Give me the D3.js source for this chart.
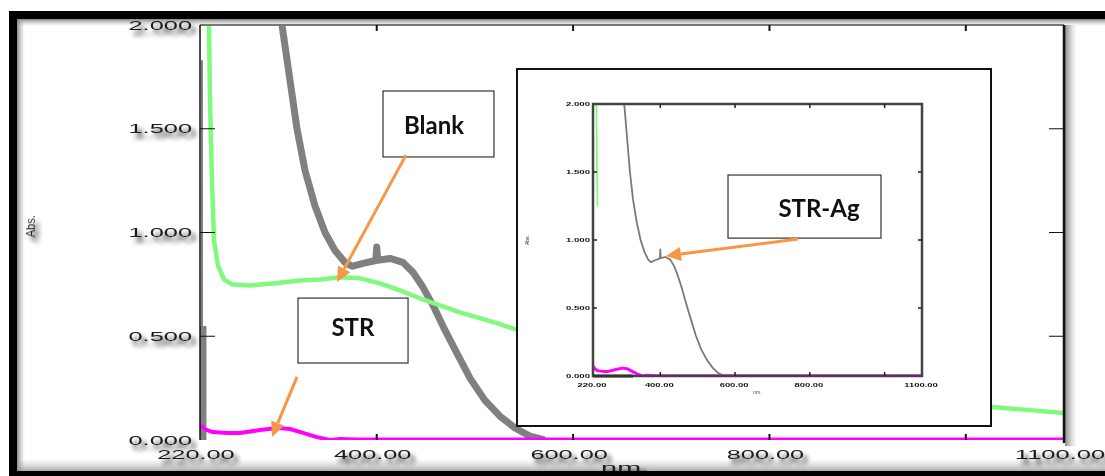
<!DOCTYPE html>
<html>
<head>
<meta charset="utf-8">
<script src="https://cdn.jsdelivr.net/npm/d3@7"></script>
<style>
  html, body { margin: 0; padding: 0; background: #fff; }
  svg { display: block; }
</style>
</head>
<body>
<svg id="chart" width="1105" height="476"></svg>
<script>
// ---- Spectra: [wavelength (nm), absorbance] ----
// Blank (green)
const blankSpectrum = [
  [229.0, 2.05], [229.2, 2.0], [230.2, 1.635], [232.2, 1.25], [234.3, 0.96],
  [238.3, 0.841], [244.4, 0.774], [252.6, 0.75], [270.9, 0.745], [296.4, 0.755],
  [321.8, 0.769], [342.2, 0.774], [362.6, 0.784], [383.0, 0.779], [403.3, 0.755],
  [423.7, 0.721], [444.0, 0.683], [464.4, 0.649], [484.8, 0.615], [505.1, 0.587],
  [525.5, 0.558], [540.8, 0.534], [600, 0.45], [700, 0.34], [800, 0.26],
  [900, 0.21], [1000, 0.172], [1027.5, 0.159], [1065, 0.144], [1100, 0.13]
];
// STR (magenta)
const strSpectrum = [
  [220, 0.072], [226, 0.05], [233, 0.038], [247.5, 0.034], [260.7, 0.034],
  [281, 0.048], [298.4, 0.058], [311.6, 0.053], [324.9, 0.034], [339, 0.014],
  [352.4, 0.0], [362.6, 0.005], [380, 0.003], [500, 0.002], [700, 0.002],
  [900, 0.002], [1100, 0.002]
];
// STR-Ag (gray); null marks a gap in the trace
const strAgSpectrum = [
  [223, 0.0], [223, 0.55], null,
  [300, 2.1], [303.5, 2.0], [318.8, 1.5], [327, 1.298], [337, 1.13], [347.3, 1.0],
  [357.5, 0.913], [367.7, 0.856], [374.8, 0.837], [386, 0.851], [399, 0.865],
  [400, 0.93], [401, 0.866], [413.5, 0.875], [426.7, 0.856], [436.9, 0.808],
  [446, 0.745], [457.3, 0.649], [469.5, 0.529], [482.7, 0.409], [495, 0.298],
  [510, 0.192], [525.5, 0.115], [540.8, 0.058], [556, 0.019], [571, 0.0]
];
// thin detector edge of the STR-Ag trace at the start of the scan
const strAgEdge = [[222, 0.55], [222, 1.83]];

// ---- Axis ticks ----
const yTickValues = [0, 0.5, 1.0, 1.5, 2.0];
const yTickLabels = ["0.000", "0.500", "1.000", "1.500", "2.000"];
const yInnerTicks = [0.5, 1.0, 1.5];
const xLabelValues = [220, 400, 600, 800, 1100];
const xTickLabels = ["220.00", "400.00", "600.00", "800.00", "1100.00"];
const xInnerTicks = [400, 600, 800, 1000];

// ---- Call-outs (data units: box [nm0, nm1, abs0, abs1], text anchor, arrow from -> to) ----
const calloutLabels = ["Blank", "STR", "STR-Ag"];
const calloutBoxes = [[406.4, 519.4, 1.682, 1.364], [319.8, 431.9, 0.684, 0.371], [757.8, 913.6, 1.277, 0.973]];
const calloutText = [[458.4, 1.518], [375.8, 0.540], [850.5, 1.118]];
const calloutArrows = [
  [[429.8, 1.373], [359.5, 0.761]],
  [[318.8, 0.304], [293.3, 0.0145]],
  [[829.1, 0.969], [694.6, 0.887]]
];

// ---- Layout ----
const W = 1105, H = 476;
const main = { left: 200, right: 1064, top: 25, bottom: 440 };
const insetBox = { x: 517, y: 69, w: 474, h: 357 };
const inner = { left: 593, right: 922, top: 104, bottom: 376 };

const GREEN = "#80fa7c", MAGENTA = "#ff00ff", GRAY = "#808080", ORANGE = "#f79646";

const svg = d3.select("#chart");
const defs = svg.append("defs");

// label drop shadow
const sh = defs.append("filter").attr("id", "lblShadow")
  .attr("x", "-30%").attr("y", "-80%").attr("width", "170%").attr("height", "300%");
sh.append("feGaussianBlur").attr("in", "SourceAlpha").attr("stdDeviation", 2.4).attr("result", "b");
sh.append("feOffset").attr("in", "b").attr("dx", 4).attr("dy", 5).attr("result", "o");
sh.append("feComponentTransfer").attr("in", "o").attr("result", "s")
  .append("feFuncA").attr("type", "linear").attr("slope", 0.9);
const shm = sh.append("feMerge");
shm.append("feMergeNode").attr("in", "s");
shm.append("feMergeNode").attr("in", "SourceGraphic");

const softBlur = defs.append("filter").attr("id", "soft");
softBlur.append("feGaussianBlur").attr("stdDeviation", 0.45);

function gradient(id, x1, y1, x2, y2, stops) {
  const g = defs.append("linearGradient").attr("id", id)
    .attr("x1", x1).attr("y1", y1).attr("x2", x2).attr("y2", y2);
  stops.forEach(s => g.append("stop").attr("offset", s[0]).attr("stop-color", s[1]).attr("stop-opacity", s[2]));
}
gradient("shDown", 0, 0, 0, 1, [[0, "#777", 0.9], [1, "#bbb", 0.0]]);
gradient("shRight", 0, 0, 1, 0, [[0, "#777", 0.85], [1, "#bbb", 0.0]]);
gradient("shUp", 0, 1, 0, 0, [[0, "#888", 0.7], [1, "#bbb", 0.0]]);

defs.append("clipPath").attr("id", "mainClip").append("rect")
  .attr("x", main.left).attr("y", main.top)
  .attr("width", main.right - main.left).attr("height", main.bottom - main.top);
defs.append("clipPath").attr("id", "innerClip").append("rect")
  .attr("x", inner.left).attr("y", inner.top)
  .attr("width", inner.right - inner.left).attr("height", inner.bottom - inner.top);

svg.append("rect").attr("width", W).attr("height", H).attr("fill", "#fff");

// ---- Scales ----
const x = d3.scaleLinear().domain([220, 1100]).range([main.left, main.right]);
const y = d3.scaleLinear().domain([0, 2]).range([main.bottom, main.top]);
const xi = d3.scaleLinear().domain([220, 1100]).range([inner.left, inner.right]);
const yi = d3.scaleLinear().domain([0, 2]).range([inner.bottom, inner.top]);

const lineMain = d3.line().defined(d => d).x(d => x(d[0])).y(d => y(d[1]));
const lineInner = d3.line().defined(d => d).x(d => xi(d[0])).y(d => yi(d[1]));

// ---- Frame shadows ----
svg.append("rect").attr("x", 17).attr("y", 19).attr("width", W - 17).attr("height", 7).attr("fill", "url(#shDown)");
svg.append("rect").attr("x", 17).attr("y", 19).attr("width", 8).attr("height", H - 19).attr("fill", "url(#shRight)");
svg.append("rect").attr("x", main.right + 1).attr("y", main.top).attr("width", 12).attr("height", main.bottom - main.top + 6).attr("fill", "url(#shRight)");
svg.append("rect").attr("x", 17).attr("y", 459).attr("width", W - 17).attr("height", 12).attr("fill", "url(#shUp)");

// ---- Main curves ----
const curves = svg.append("g").attr("clip-path", "url(#mainClip)").attr("fill", "none")
  .attr("stroke-linejoin", "round").attr("stroke-linecap", "butt");
curves.append("path").datum(strAgEdge).attr("d", lineMain).attr("stroke", "#555").attr("stroke-width", 1.5);
curves.append("path").datum(strAgSpectrum).attr("d", lineMain).attr("stroke", GRAY).attr("stroke-width", 7);
curves.append("path").datum(blankSpectrum).attr("d", lineMain).attr("stroke", GREEN).attr("stroke-width", 4.5);
curves.append("path").datum(strSpectrum).attr("d", lineMain).attr("stroke", MAGENTA).attr("stroke-width", 4);

// ---- Main axes frame and ticks ----
const frame = svg.append("g");
frame.append("line").attr("x1", main.left).attr("x2", main.right).attr("y1", main.top).attr("y2", main.top)
  .attr("stroke", "#777").attr("stroke-width", 2);
frame.append("line").attr("x1", main.left).attr("x2", main.left).attr("y1", main.top).attr("y2", main.bottom)
  .attr("stroke", "#111").attr("stroke-width", 1.5);
frame.append("line").attr("x1", main.right).attr("x2", main.right).attr("y1", main.top).attr("y2", main.bottom + 3)
  .attr("stroke", "#111").attr("stroke-width", 2.5);
frame.selectAll(".yt").data(yInnerTicks).join("line")
  .attr("x1", main.left).attr("x2", main.left + 15).attr("y1", d => y(d)).attr("y2", d => y(d))
  .attr("stroke", "#111").attr("stroke-width", 1);
frame.selectAll(".yr").data(yInnerTicks).join("line")
  .attr("x1", main.right - 15).attr("x2", main.right).attr("y1", d => y(d)).attr("y2", d => y(d))
  .attr("stroke", "#111").attr("stroke-width", 1);
frame.selectAll(".xb").data(xInnerTicks).join("line")
  .attr("x1", d => x(d)).attr("x2", d => x(d)).attr("y1", main.bottom).attr("y2", main.bottom - 6)
  .attr("stroke", "#111").attr("stroke-width", 2);
frame.selectAll(".xt").data(xInnerTicks).join("line")
  .attr("x1", d => x(d)).attr("x2", d => x(d)).attr("y1", main.top).attr("y2", main.top + 6)
  .attr("stroke", "#111").attr("stroke-width", 2);

// ---- Inset ----
const inset = svg.append("g");
inset.append("rect").attr("x", insetBox.x).attr("y", insetBox.y).attr("width", insetBox.w).attr("height", insetBox.h)
  .attr("fill", "#fff").attr("stroke", "#111").attr("stroke-width", 2);

const ic = inset.append("g").attr("clip-path", "url(#innerClip)").attr("fill", "none").attr("stroke-linejoin", "round");
ic.append("path").datum(strAgSpectrum.filter(d => !d || d[0] > 250)).attr("d", lineInner)
  .attr("stroke", "#7a7a7a").attr("stroke-width", 1.8);
ic.append("path").datum(blankSpectrum.filter(d => d[0] <= 233)).attr("d", lineInner)
  .attr("stroke", GREEN).attr("stroke-width", 1.8);
ic.append("path").datum(strSpectrum).attr("d", lineInner).attr("stroke", MAGENTA).attr("stroke-width", 3);

inset.append("rect").attr("x", inner.left).attr("y", inner.top)
  .attr("width", inner.right - inner.left).attr("height", inner.bottom - inner.top)
  .attr("fill", "none").attr("stroke", "#444").attr("stroke-width", 2.5);
inset.append("line").attr("x1", inner.left).attr("x2", inner.left + 40).attr("y1", inner.bottom).attr("y2", inner.bottom)
  .attr("stroke", "#333").attr("stroke-width", 3);
inset.selectAll(".ixb").data(xInnerTicks).join("line")
  .attr("x1", d => xi(d)).attr("x2", d => xi(d)).attr("y1", inner.bottom).attr("y2", inner.bottom - 4)
  .attr("stroke", "#222").attr("stroke-width", 1.5);
inset.selectAll(".ixt").data(xInnerTicks).join("line")
  .attr("x1", d => xi(d)).attr("x2", d => xi(d)).attr("y1", inner.top).attr("y2", inner.top + 4)
  .attr("stroke", "#222").attr("stroke-width", 1.5);
inset.selectAll(".iyl").data(yInnerTicks).join("line")
  .attr("x1", inner.left).attr("x2", inner.left + 4).attr("y1", d => yi(d)).attr("y2", d => yi(d))
  .attr("stroke", "#222").attr("stroke-width", 1.5);
inset.selectAll(".iyr").data(yInnerTicks).join("line")
  .attr("x1", inner.right - 4).attr("x2", inner.right).attr("y1", d => yi(d)).attr("y2", d => yi(d))
  .attr("stroke", "#222").attr("stroke-width", 1.5);

const tinyFont = "'Liberation Sans', Arial, sans-serif";
inset.append("g").attr("filter", "url(#soft)").selectAll("text").data(yTickValues).join("text")
  .attr("x", inner.left - 3).attr("y", d => yi(d) + 2)
  .attr("text-anchor", "end").attr("font-family", tinyFont).attr("font-weight", "bold")
  .attr("font-size", 6).attr("textLength", 24).attr("lengthAdjust", "spacingAndGlyphs")
  .attr("fill", "#111").text((d, i) => yTickLabels[i]);
inset.append("g").attr("filter", "url(#soft)").selectAll("text").data(xLabelValues).join("text")
  .attr("x", d => xi(d) - 1).attr("y", inner.bottom + 11)
  .attr("text-anchor", "middle").attr("font-family", tinyFont).attr("font-weight", "bold")
  .attr("font-size", 6).attr("textLength", (d, i) => xTickLabels[i].length * 4.8).attr("lengthAdjust", "spacingAndGlyphs")
  .attr("fill", "#111").text((d, i) => xTickLabels[i]);
inset.append("text").attr("x", xi(660)).attr("y", inner.bottom + 18).attr("text-anchor", "middle")
  .attr("font-family", tinyFont).attr("font-size", 5).attr("fill", "#444").attr("filter", "url(#soft)").text("nm.");
inset.append("text").attr("transform", `translate(${insetBox.x + 12},${yi(1.0)}) rotate(-90)`)
  .attr("text-anchor", "middle").attr("font-family", tinyFont).attr("font-size", 5)
  .attr("fill", "#222").attr("filter", "url(#soft)").text("Abs.");

// ---- Main axis labels ----
const labelFont = "'Liberation Sans', Arial, sans-serif";
const lbl = svg.append("g").attr("filter", "url(#lblShadow)").attr("font-family", labelFont)
  .attr("font-size", 12.5).attr("fill", "#1a1a1a");
lbl.selectAll(".yl").data(yTickValues).join("text")
  .attr("x", main.left - 8).attr("y", d => y(d) + 4.5)
  .attr("text-anchor", "end").attr("textLength", (d, i) => yTickLabels[i].length * 12.7)
  .attr("lengthAdjust", "spacingAndGlyphs").text((d, i) => yTickLabels[i]);
lbl.selectAll(".xl").data(xLabelValues).join("text")
  .attr("x", d => x(d) - 4).attr("y", main.bottom + 19)
  .attr("text-anchor", "middle").attr("textLength", (d, i) => xTickLabels[i].length * 12.9)
  .attr("lengthAdjust", "spacingAndGlyphs").text((d, i) => xTickLabels[i]);
lbl.append("text").attr("x", x(653)).attr("y", main.bottom + 32).attr("text-anchor", "middle")
  .attr("textLength", 48).attr("lengthAdjust", "spacingAndGlyphs").text("nm.");
lbl.append("text").attr("transform", `translate(${main.left - 165},${y(1.03)}) rotate(-90)`)
  .attr("text-anchor", "middle").attr("font-size", 12).attr("textLength", 22)
  .attr("lengthAdjust", "spacingAndGlyphs").text("Abs.");

// ---- Call-outs ----
const co = svg.append("g");
calloutLabels.forEach((label, i) => {
  const b = calloutBoxes[i];
  co.append("rect").attr("x", x(b[0])).attr("y", y(b[2]))
    .attr("width", x(b[1]) - x(b[0])).attr("height", y(b[3]) - y(b[2]))
    .attr("fill", "#fff").attr("stroke", "#333").attr("stroke-width", 1.2);
  co.append("text").attr("x", x(calloutText[i][0])).attr("y", y(calloutText[i][1]) + 8.5)
    .attr("text-anchor", "middle").attr("font-family", "Lato, 'Open Sans', sans-serif")
    .attr("font-weight", "bold").attr("font-size", 24).attr("fill", "#111").text(label);

  const [p0, p1] = calloutArrows[i];
  const x0 = x(p0[0]), y0 = y(p0[1]), x1 = x(p1[0]), y1 = y(p1[1]);
  const ang = Math.atan2(y1 - y0, x1 - x0);
  const headLen = 15, headHalf = 7;
  const bx = x1 - headLen * Math.cos(ang), by = y1 - headLen * Math.sin(ang);
  co.append("line").attr("x1", x0).attr("y1", y0).attr("x2", bx).attr("y2", by)
    .attr("stroke", ORANGE).attr("stroke-width", 3);
  const nx = -Math.sin(ang), ny = Math.cos(ang);
  co.append("path")
    .attr("d", `M${x1},${y1}L${bx + nx * headHalf},${by + ny * headHalf}L${bx - nx * headHalf},${by - ny * headHalf}Z`)
    .attr("fill", ORANGE);
});

// ---- Outer black frame ----
svg.append("rect").attr("x", 9).attr("y", 11).attr("width", W - 9).attr("height", 8).attr("fill", "#000");
svg.append("rect").attr("x", 9).attr("y", 11).attr("width", 8).attr("height", H - 11).attr("fill", "#000");
svg.append("rect").attr("x", 9).attr("y", 471).attr("width", W - 9).attr("height", 5).attr("fill", "#000");
</script>
</body>
</html>
